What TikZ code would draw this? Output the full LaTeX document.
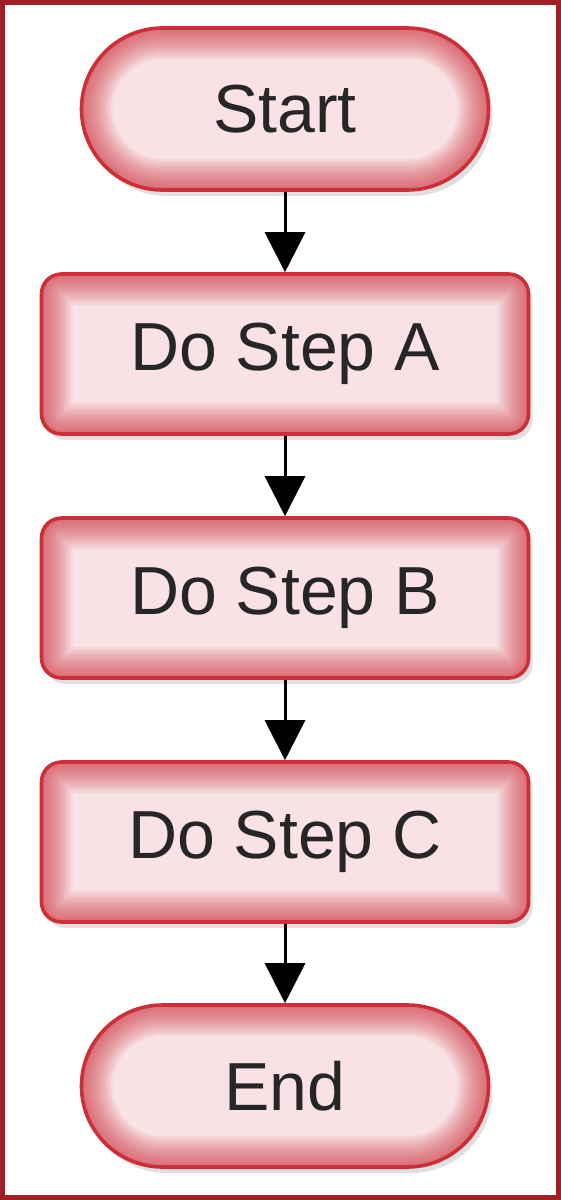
\documentclass[tikz,border=0pt]{standalone}
\usepackage{fontspec}
\setmainfont{Liberation Sans}
\usetikzlibrary{arrows.meta, positioning, shadows}

\definecolor{boxred}{RGB}{206,46,56}
\definecolor{boxpink}{RGB}{248,226,229}
\definecolor{framered}{RGB}{160,30,36}

\begin{document}
\begin{tikzpicture}[
    x=0.5pt, y=-0.5pt,
    glow/.style={path picture={
        \foreach \w in {3,5,...,31}
            \draw[boxred, line width=\w pt, opacity=0.06, rounded corners=#1]
                (path picture bounding box.south west) rectangle (path picture bounding box.north east);
    }},
    box/.style={rectangle, rounded corners=#1, draw=boxred, line width=1.8pt, fill=boxpink,
        glow=#1, drop shadow={shadow xshift=2pt, shadow yshift=-3pt, fill=black, opacity=0.12},
        font=\fontsize{34}{40}\selectfont, text=black!85},
    term/.style={box=40.5pt, minimum width=203.5pt, minimum height=81pt},
    proc/.style={box=10pt, minimum width=243.5pt, minimum height=80pt},
    flow/.style={line width=1.5pt, -{Triangle[length=20pt, width=20pt]}}
]
    \useasboundingbox (0,0) rectangle (561,1200);
    % outer frame
    \draw[framered, line width=2.5pt] (2.5,2.5) rectangle (558.5,1197.5);

    % steps
    \node[term] (start) at (285,109) {Start};
    \node[proc] (doA) at (285,354) {Do Step A};
    \node[proc] (doB) at (285,598) {Do Step B};
    \node[proc] (doC) at (285,842) {Do Step C};
    \node[term] (finish) at (285,1086) {End};

    % connectors
    \draw[flow] (start) -- (doA);
    \draw[flow] (doA) -- (doB);
    \draw[flow] (doB) -- (doC);
    \draw[flow] (doC) -- (finish);
\end{tikzpicture}
\end{document}
